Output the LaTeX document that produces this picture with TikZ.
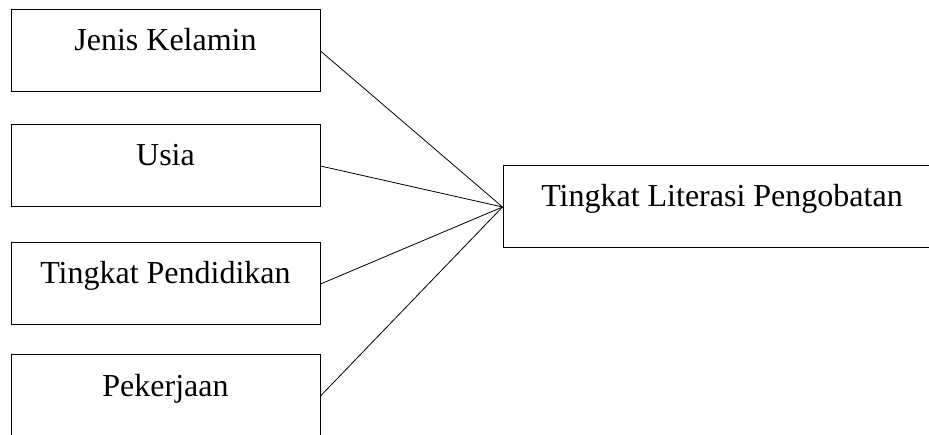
\documentclass[tikz,border=0pt]{standalone}
\usepackage{fontspec}
\setmainfont{Liberation Serif}

\begin{document}
\begin{tikzpicture}[x=1pt,y=-1pt]
  \tikzset{var/.style={draw, line width=1pt, minimum width=309pt, minimum height=82pt,
      inner sep=0pt, text height=20pt, text depth=20pt, font=\fontsize{32}{38}\selectfont}}
  \clip (0,0) rectangle (929,435);
  % independent variables on the left
  \node[var] (jk) at (165.5,51) {Jenis Kelamin};
  \node[var] (usia) at (165.5,166) {Usia};
  \node[var] (pend) at (165.5,284) {Tingkat Pendidikan};
  \node[var] (kerja) at (165.5,396) {Pekerjaan};
  % dependent variable
  \node[var, minimum width=438pt] (lit) at (722,207) {Tingkat Literasi Pengobatan};
  \draw[line width=0.8pt] (jk.east) -- (lit.west);
  \draw[line width=0.8pt] (usia.east) -- (lit.west);
  \draw[line width=0.8pt] (pend.east) -- (lit.west);
  \draw[line width=0.8pt] (kerja.east) -- (lit.west);
\end{tikzpicture}
\end{document}
